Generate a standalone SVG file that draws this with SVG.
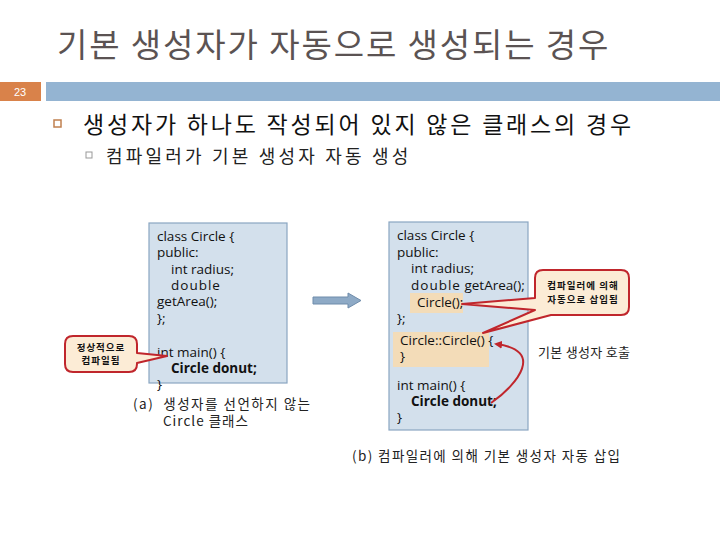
<svg xmlns="http://www.w3.org/2000/svg" width="720" height="540" viewBox="0 0 720 540">
<style>
.ko{font-family:"Noto Sans CJK KR","Noto Sans",sans-serif}
.code{font-family:"Open Sans","Noto Sans CJK KR",sans-serif;font-size:13.5px;fill:#111}
.box{fill:#d3e0ec;stroke:#8aa6c2;stroke-width:1.2}
.hl{fill:#f3dcb8}
.call{fill:#fcecd6;stroke:#c0262c;stroke-width:2;stroke-linejoin:round}
.ctext{font-family:"Noto Sans CJK KR",sans-serif;font-size:9.5px;font-weight:bold;fill:#111;text-anchor:middle;letter-spacing:1px}
</style>
<defs>
<marker id="ah" markerWidth="8" markerHeight="8" refX="6" refY="4" orient="auto" markerUnits="userSpaceOnUse">
<path d="M0,0 L8,4 L0,8 Z" fill="#c0262c"/>
</marker>
</defs>
<rect width="720" height="540" fill="#fff"/>
<g id="title">
<text x="57" y="57" class="ko" font-size="33" fill="#5b5353" letter-spacing="1.9">기본 생성자가 자동으로 생성되는 경우</text>
</g>
<g id="header">
<rect x="0" y="82" width="41" height="19" fill="#d9824a"/>
<text x="20" y="96" font-family="Liberation Sans,sans-serif" font-size="11" fill="#fff" text-anchor="middle">23</text>
<rect x="46" y="82" width="674" height="19" fill="#94b4d2"/>
</g>
<g id="bullets">
<rect x="54" y="120" width="7" height="7" fill="none" stroke="#c0804f" stroke-width="1.5"/>
<text x="83" y="133" class="ko" font-size="23" fill="#111" letter-spacing="2.8">생성자가 하나도 작성되어 있지 않은 클래스의 경우</text>
<rect x="86" y="152" width="6" height="6" fill="none" stroke="#999" stroke-width="1"/>
<text x="106" y="163" class="ko" font-size="18" fill="#222" letter-spacing="3.2">컴파일러가 기본 생성자 자동 생성</text>
</g>
<g id="boxA">
<rect class="box" x="149" y="223" width="138" height="160"/>
<text class="code" x="157" y="241">class Circle {</text>
<text class="code" x="157" y="257">public:</text>
<text class="code" x="171" y="274">int radius;</text>
<text class="code" x="171" y="290" letter-spacing="1">double</text>
<text class="code" x="157" y="306">getArea();</text>
<text class="code" x="157" y="323">};</text>
<text class="code" x="157" y="357">int main() {</text>
<text class="code" x="171" y="373" font-weight="bold">Circle donut;</text>
<text class="code" x="157" y="389">}</text>
</g>
<g id="captionA">
<text x="133" y="409" class="ko" font-size="13.5" fill="#222" letter-spacing="1.5" xml:space="preserve">(a)  생성자를 선언하지 않는</text>
<text x="163" y="426" class="ko" font-size="13.5" fill="#222" letter-spacing="1">Circle 클래스</text>
</g>
<g id="calloutA">
<path class="call" d="M73 336 H129 Q137 336 137 344 V353 L167 356 L137 363 V364 Q137 372 129 372 H73 Q65 372 65 364 V344 Q65 336 73 336 Z"/>
<text class="ctext" x="101" y="351">정상적으로</text>
<text class="ctext" x="101" y="364">컴파일됨</text>
</g>
<g id="arrowMid">
<path d="M313 297 H348 V293 L361 300.5 L348 308 V304 H313 Z" fill="#8eaac6" stroke="#6f8cab" stroke-width="1"/>
</g>
<g id="boxB">
<rect class="box" x="389" y="222" width="139" height="208"/>
<rect class="hl" x="410" y="293" width="53" height="20"/>
<rect class="hl" x="393" y="332" width="96" height="35"/>
<text class="code" x="397" y="240">class Circle {</text>
<text class="code" x="397" y="257">public:</text>
<text class="code" x="411" y="273">int radius;</text>
<text class="code" x="411" y="290"><tspan letter-spacing="1">double</tspan> getArea();</text>
<text class="code" x="417" y="307" font-size="12.5">Circle();</text>
<text class="code" x="397" y="323">};</text>
<text class="code" x="400" y="345" font-size="12.5">Circle::Circle() {</text>
<text class="code" x="400" y="361" font-size="12.5">}</text>
<text class="code" x="397" y="390">int main() {</text>
<text class="code" x="411" y="406" font-weight="bold">Circle donut;</text>
<text class="code" x="397" y="422">}</text>
</g>
<g id="calloutB">
<path class="call" d="M543 270 H621 Q629 270 629 278 V307 Q629 315 621 315 H551 L483 333 L535 310 L462 304 L535 298 V278 Q535 270 543 270 Z"/>
<text class="ctext" x="583" y="289">컴파일러에 의해</text>
<text class="ctext" x="583" y="303">자동으로 삽입됨</text>
</g>
<g id="connectors">
<path d="M491 403 C518 384 545 350 496 344" fill="none" stroke="#c0262c" stroke-width="2" marker-end="url(#ah)"/>
</g>
<g id="labels">
<text x="538" y="357" class="ko" font-size="13" fill="#222" letter-spacing="0.3">기본 생성자 호출</text>
<text x="352" y="461" class="ko" font-size="13.5" fill="#222" letter-spacing="1.4">(b) 컴파일러에 의해 기본 생성자 자동 삽입</text>
</g>
</svg>
